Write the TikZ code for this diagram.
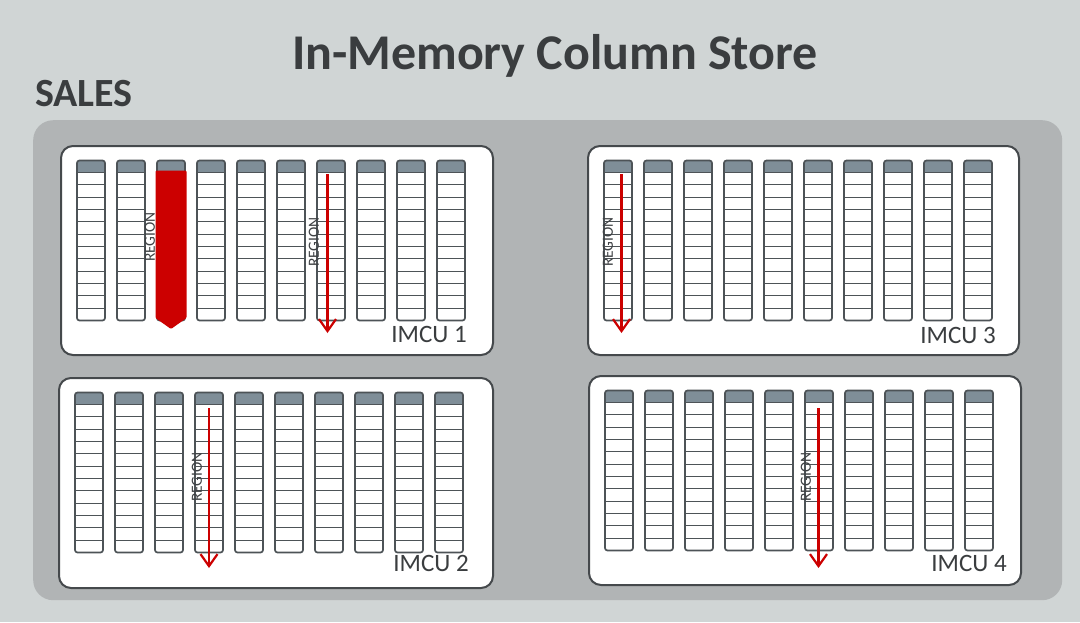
\documentclass[tikz,border=0pt]{standalone}
\usepackage{fontspec}
\setmainfont{Carlito}
\usetikzlibrary{arrows.meta}
\definecolor{bgc}{HTML}{D0D5D5}
\definecolor{panelc}{HTML}{B1B4B5}
\definecolor{txt}{HTML}{3A3D3F}
\definecolor{hdr}{HTML}{7F8E98}
\definecolor{colline}{HTML}{4D5357}
\definecolor{boxline}{HTML}{45494C}
\definecolor{redc}{HTML}{CC0000}
\definecolor{regc}{HTML}{3F4245}
\begin{document}
\begin{tikzpicture}[x=1pt,y=-1pt,
  imcubox/.style={draw=boxline, line width=2pt, fill=white, rounded corners=12pt, inner sep=0pt, anchor=north west},
  colframe/.style={draw=colline, line width=1.7pt, rounded corners=2.5pt},
  cellline/.style={draw=colline, line width=1.2pt},
  regarrow/.style={draw=redc, line width=2.2pt, -{Straight Barb[length=12pt,width=17pt,line width=2.2pt]}},
  regtext/.style={rotate=90, text=regc, font=\fontsize{15.5}{16}\selectfont, inner sep=0pt},
  imculabel/.style={anchor=base east, text=txt, font=\fontsize{25}{28}\selectfont, inner sep=0pt}]
\fill[bgc] (0,0) rectangle (1080,622);
\useasboundingbox (0,0) rectangle (1080,622);
% titles
\node[anchor=base, text=txt, font=\bfseries\fontsize{50}{60}\selectfont, inner sep=0pt] (title) at (555,69) {In-Memory Column Store};
\node[anchor=base west, text=txt, font=\bfseries\fontsize{40}{48}\selectfont, inner sep=0pt] (sales) at (35,106) {SALES};
% panel
\node[fill=panelc, rounded corners=20pt, minimum width=1029pt, minimum height=480pt, inner sep=0pt, anchor=north west] (panel) at (33,120) {};
% IMCU boxes
\node[imcubox, minimum width=432pt, minimum height=209pt] (imcu1) at (60,145) {};
\node[imcubox, minimum width=431pt, minimum height=209pt] (imcu3) at (587,145) {};
\node[imcubox, minimum width=434pt, minimum height=210pt] (imcu2) at (58,377) {};
\node[imcubox, minimum width=432pt, minimum height=209pt] (imcu4) at (588,375) {};
% columns
\foreach \bx/\by in {60/145, 587/145, 58/377, 588/375} {
  \foreach \i in {0,...,9} {
    \pgfmathsetmacro\cx{\bx+17+40*\i}
    \pgfmathsetmacro\cy{\by+15.5}
    \fill[hdr, rounded corners=2.5pt] (\cx,\cy) rectangle ++(28,12);
    \fill[hdr] (\cx,\cy+6) rectangle ++(28,6);
    \foreach \k in {0,...,11} \draw[cellline] (\cx,\cy+12+12.333*\k) -- ++(28,0);
    \draw[colframe] (\cx,\cy) rectangle ++(28,160);
  }
}
% red filled region column in IMCU 1
\fill[redc, rounded corners=1pt] (155.5,170.5) -- (186.5,170.5) -- (186.5,318) -- (171,329) -- (155.5,318) -- cycle;
% region arrows
\coordinate (a1s) at (327.5,174);  \coordinate (a1e) at (327.5,333);
\coordinate (a3s) at (621.5,174);  \coordinate (a3e) at (621.5,333);
\coordinate (a2s) at (209,408);    \coordinate (a2e) at (209,568);
\coordinate (a4s) at (818.5,408);  \coordinate (a4e) at (818.5,568);
\draw[regarrow] (a1s) -- (a1e);
\draw[regarrow] (a3s) -- (a3e);
\draw[regarrow] (a2s) -- (a2e);
\draw[regarrow] (a4s) -- (a4e);
% region labels
\node[regtext] (r0) at (150,237) {REGION};
\node[regtext] (r1) at (314,242) {REGION};
\node[regtext] (r3) at (608,242) {REGION};
\node[regtext] (r2) at (197,477) {REGION};
\node[regtext] (r4) at (806,477) {REGION};
% IMCU labels
\node[imculabel] (l1) at (467,342) {IMCU 1};
\node[imculabel] (l3) at (996,343) {IMCU 3};
\node[imculabel] (l2) at (469,571) {IMCU 2};
\node[imculabel] (l4) at (1007,571) {IMCU 4};
\end{tikzpicture}
\end{document}
